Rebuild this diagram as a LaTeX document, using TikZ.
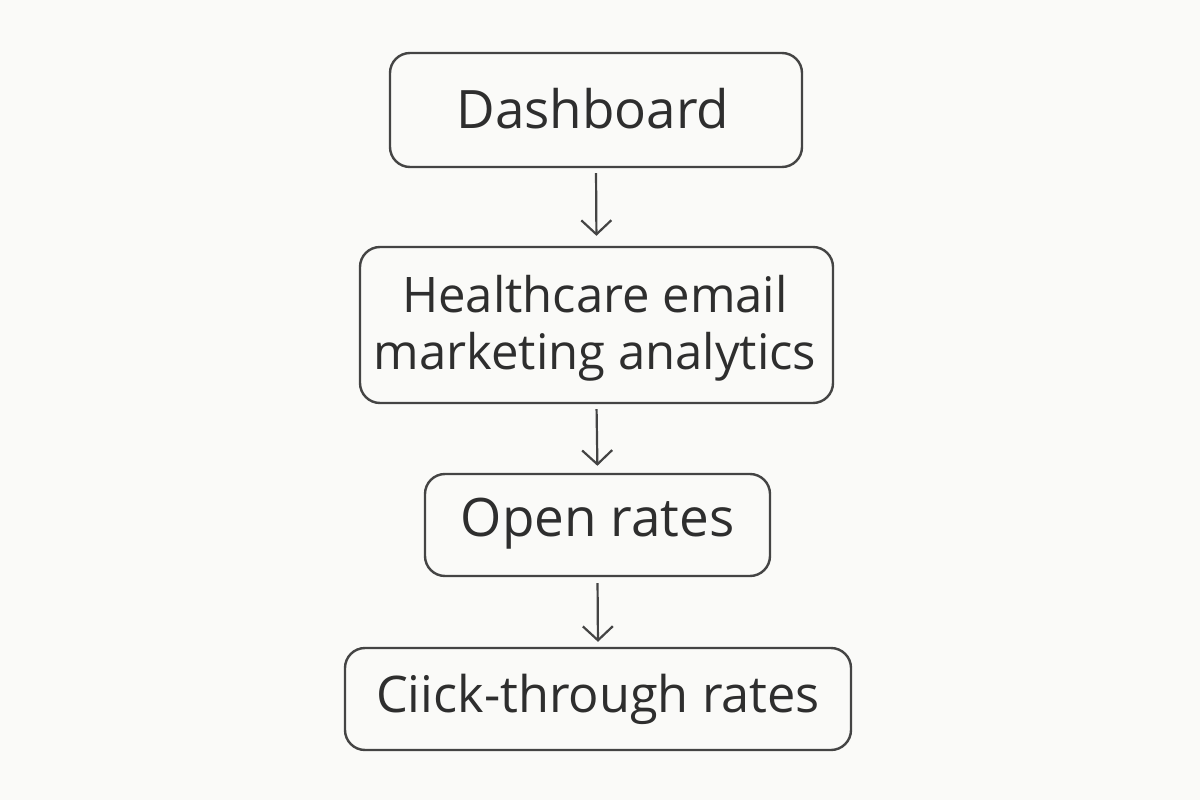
\documentclass[tikz,border=0pt]{standalone}
\usepackage{fontspec}
\setmainfont{Open Sans}
\usetikzlibrary{arrows.meta}
\definecolor{bg}{HTML}{FAFAF8}
\definecolor{ink}{HTML}{444444}
\definecolor{txt}{HTML}{2E2E2E}
\tikzset{
  box/.style={draw=ink, line width=2.4pt, rounded corners=20pt, inner sep=0pt, align=center, text=txt},
  label/.style={text=txt, align=center, inner sep=0pt},
  flow/.style={draw=ink, line width=2.2pt, -{Straight Barb[length=14pt,width=30pt,line width=2.2pt]}}
}
\begin{document}
\begin{tikzpicture}[x=1pt,y=-1pt]
\fill[bg] (0,0) rectangle (1200,800);
\useasboundingbox (0,0) rectangle (1200,800);
\node[box, minimum width=412pt, minimum height=114pt] (dash) at (596,110) {};
\node[label, font=\fontsize{53}{60}\selectfont] (dashT) at (593,109) {Dashboard};
\node[box, minimum width=473pt, minimum height=156pt] (health) at (596.5,325) {};
\node[label, font=\fontsize{49}{57}\selectfont] (healthT) at (595,328) {Healthcare email\\marketing analytics};
\node[box, minimum width=345pt, minimum height=102pt] (open) at (597.5,525) {};
\node[label, font=\fontsize{53}{60}\selectfont] (openT) at (597.5,524) {Open rates};
\node[box, minimum width=506pt, minimum height=102pt] (click) at (598,699) {};
\node[label, font=\fontsize{50.5}{57}\selectfont] (clickT) at (598,699) {Ciick-through rates};
\draw[flow, shorten <=5pt, shorten >=10pt] (dash.south) -- (health.north);
\draw[flow, shorten <=5pt, shorten >=7pt] (health.south) -- (open.north);
\draw[flow, shorten <=6pt, shorten >=5pt] (open.south) -- (click.north);
\end{tikzpicture}
\end{document}
